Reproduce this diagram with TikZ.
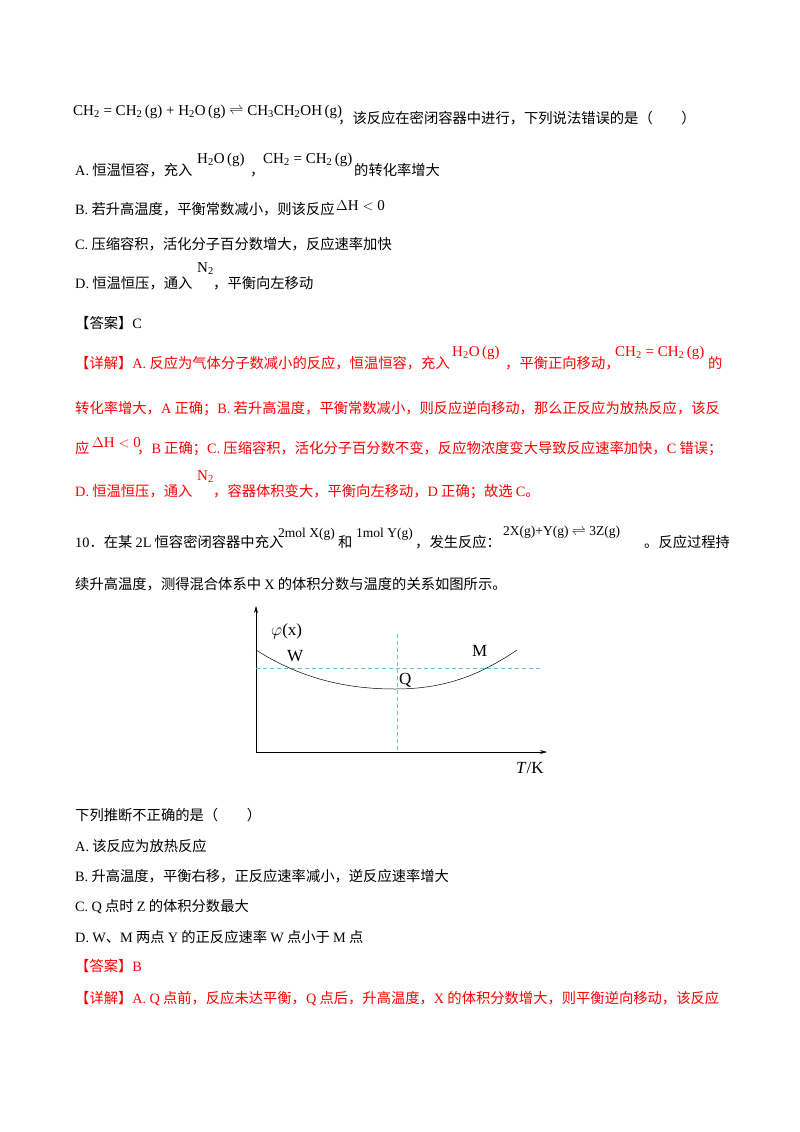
\documentclass[tikz,border=0pt]{standalone}
\usepackage{fontspec}
\usetikzlibrary{arrows.meta}
\setmainfont{Noto Sans CJK SC}
\newfontfamily\tm{Liberation Serif}
\newcommand{\sbs}[1]{\textsubscript{#1}}
\newcommand{\gas}{\,(g)}
\begin{document}
\begin{tikzpicture}[x=1pt,y=-1pt,
  t/.style={anchor=base west,inner sep=0pt,font=\fontsize{14.3}{16}\selectfont},
  f/.style={anchor=base west,inner sep=0pt,font=\fontsize{15}{16}\selectfont\tm},
  fs/.style={anchor=base west,inner sep=0pt,font=\fontsize{13.5}{16}\selectfont\tm},
  r/.style={t,text=red},
  rf/.style={f,text=red},
  ax/.style={line width=0.6pt,-{Stealth[length=7pt,width=4pt]}},
  dsh/.style={color={rgb,255:red,100;green,190;blue,220},dash pattern=on 4pt off 3pt,line width=0.7pt}]
\useasboundingbox (0,0) rectangle (800,1132);
% line 1
\node[f] (l1f) at (73,115) {CH\sbs{2} = CH\sbs{2}\gas{} + H\sbs{2}O\gas{} $\rightleftharpoons$ CH\sbs{3}CH\sbs{2}OH\gas};
\node[t] (l1t) at (338,123) {，该反应在密闭容器中进行，下列说法错误的是（\hspace{2em}）};
% A
\node[t] (a1) at (75,175) {{\tm A.} 恒温恒容，充入};
\node[f] (a2) at (197,163) {H\sbs{2}O\gas};
\node[t] (a3) at (250,175) {，};
\node[f] (a4) at (263,163) {CH\sbs{2} = CH\sbs{2}\gas};
\node[t] (a5) at (354,175) {的转化率增大};
% B
\node[t] (b1) at (75,214) {{\tm B.} 若升高温度，平衡常数减小，则该反应};
\node[f] (b2) at (336,210) {$\Delta$H $<$ 0};
% C
\node[t] (c1) at (75,249) {{\tm C.} 压缩容积，活化分子百分数增大，反应速率加快};
% D
\node[t] (d1) at (75,288) {{\tm D.} 恒温恒压，通入};
\node[f] (d2) at (197,272) {N\sbs{2}};
\node[t] (d3) at (213,288) {，平衡向左移动};
\node[t] (ans1) at (75,328) {【答案】{\tm C}};
% red explanation
\node[r] (e1) at (75,368) {【详解】{\tm A.} 反应为气体分子数减小的反应，恒温恒容，充入};
\node[rf] (e2) at (452,356) {H\sbs{2}O\gas};
\node[r] (e3) at (505,368) {，平衡正向移动，};
\node[rf] (e4) at (615,356) {CH\sbs{2} = CH\sbs{2}\gas};
\node[r] (e5) at (708,368) {的};
\node[r] (e6) at (75,413) {转化率增大，{\tm A} 正确；{\tm B.} 若升高温度，平衡常数减小，则反应逆向移动，那么正反应为放热反应，该反};
\node[r] (e7) at (75,453) {应};
\node[rf] (e8) at (92,447) {$\Delta$H $<$ 0};
\node[r] (e9) at (137,453) {，{\tm B} 正确；{\tm C.} 压缩容积，活化分子百分数不变，反应物浓度变大导致反应速率加快，{\tm C} 错误；};
\node[r] (e10) at (75,496) {{\tm D.} 恒温恒压，通入};
\node[rf] (e11) at (197,480) {N\sbs{2}};
\node[r] (e12) at (213,496) {，容器体积变大，平衡向左移动，{\tm D} 正确；故选 {\tm C}。};
% question 10
\node[t] (q1) at (75,547) {{\tm 10}．在某 {\tm 2L} 恒容密闭容器中充入};
\node[fs] (q2) at (278,537) {2mol X(g)};
\node[t] (q3) at (338,547) {和};
\node[fs] (q4) at (356,537) {1mol Y(g)};
\node[t] (q5) at (415,547) {，发生反应：};
\node[fs] (q6) at (503,535) {2X(g)+Y(g) $\rightleftharpoons$ 3Z(g)};
\node[t] (q7) at (644,547) {。反应过程持};
\node[t] (q8) at (75,589) {续升高温度，测得混合体系中 {\tm X} 的体积分数与温度的关系如图所示。};
% graph
\coordinate (O) at (256,752);
\coordinate (Ytop) at (256,606);
\coordinate (Xend) at (547,752);
\draw[ax] (O) -- (Ytop);
\draw[ax] (O) -- (Xend);
\coordinate (h1) at (256,668);
\coordinate (h2) at (541,668);
\coordinate (v1) at (397,634);
\coordinate (v2) at (397,752);
\draw[dsh] (h1) -- (h2);
\draw[dsh] (v1) -- (v2);
\coordinate (c0) at (256,650);
\coordinate (cm) at (395,689);
\coordinate (c1) at (517,650);
\draw[line width=0.5pt] (c0) .. controls (300,678) and (345,689) .. (cm) .. controls (445,689) and (480,675) .. (c1);
\node[f,font=\fontsize{17}{18}\selectfont\tm] (phi) at (271,635) {$\varphi$(x)};
\node[f,font=\fontsize{17}{18}\selectfont\tm] (W) at (287,661) {W};
\node[f,font=\fontsize{17}{18}\selectfont\tm] (M) at (472,656) {M};
\node[f,font=\fontsize{17}{18}\selectfont\tm] (Q) at (399,684) {Q};
\node[f,font=\fontsize{17}{18}\selectfont\tm] (TK) at (516,773) {\textit{T}/K};
% after graph
\node[t] (p1) at (75,820) {下列推断不正确的是（\hspace{2em}）};
\node[t] (p2) at (75,851) {{\tm A.} 该反应为放热反应};
\node[t] (p3) at (75,881) {{\tm B.} 升高温度，平衡右移，正反应速率减小，逆反应速率增大};
\node[t] (p4) at (75,911) {{\tm C.} {\tm Q} 点时 {\tm Z} 的体积分数最大};
\node[t] (p5) at (75,942) {{\tm D.} {\tm W}、{\tm M} 两点 {\tm Y} 的正反应速率 {\tm W} 点小于 {\tm M} 点};
\node[r] (p6) at (75,971) {【答案】{\tm B}};
\node[r] (p7) at (75,1003) {【详解】{\tm A.} {\tm Q} 点前，反应未达平衡，{\tm Q} 点后，升高温度，{\tm X} 的体积分数增大，则平衡逆向移动，该反应};
\end{tikzpicture}
\end{document}
